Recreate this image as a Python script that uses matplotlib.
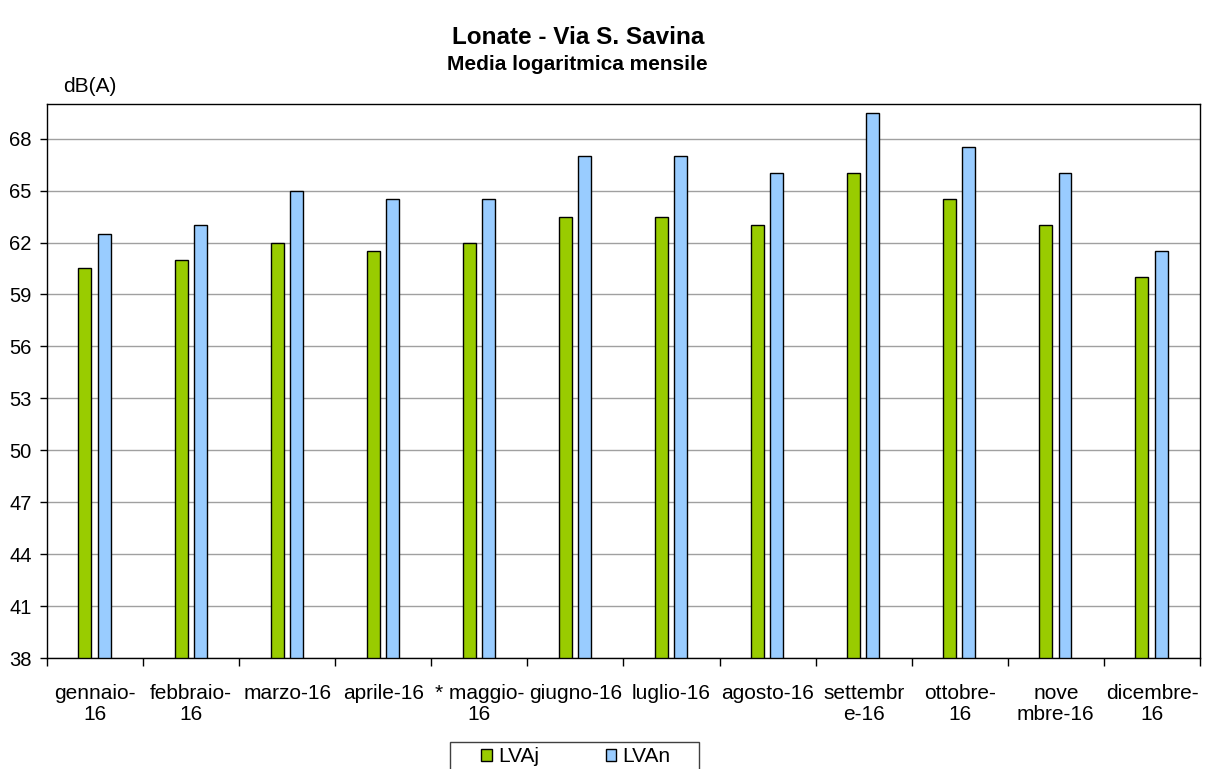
import matplotlib
matplotlib.use("Agg")
import matplotlib.pyplot as plt
from matplotlib.patches import Rectangle
import numpy as np

plt.rcParams['font.family'] = ['Liberation Sans', 'DejaVu Sans']

categories = ["gennaio-\n16", "febbraio-\n16", "marzo-16", "aprile-16", "* maggio-\n16",
              "giugno-16", "luglio-16", "agosto-16", "settembr\ne-16", "ottobre-\n16",
              "nove\nmbre-16", "dicembre-\n16"]
lvaj = [60.5, 61.0, 62.0, 61.5, 62.0, 63.5, 63.5, 63.0, 66.0, 64.5, 63.0, 60.0]
lvan = [62.5, 63.0, 65.0, 64.5, 64.5, 67.0, 67.0, 66.0, 69.5, 67.5, 66.0, 61.5]
yticks = [38, 41, 44, 47, 50, 53, 56, 59, 62, 65, 68]

W, H = 1208, 769
fig = plt.figure(figsize=(W/100, H/100), dpi=100)
ax = fig.add_axes([47/W, 1 - 658/H, (1200-47)/W, (658-104)/H])

x = np.arange(len(categories))
w = 0.135
ax.bar(x - 0.105, [v - 38 for v in lvaj], w, bottom=38, color="#99CC00", edgecolor="black", linewidth=1, label="LVAj", zorder=3)
ax.bar(x + 0.095, [v - 38 for v in lvan], w, bottom=38, color="#99CCFF", edgecolor="black", linewidth=1, label="LVAn", zorder=3)

ax.set_xlim(-0.5, len(categories) - 0.5)
ax.set_ylim(38, 70)
ax.set_yticks(yticks)
ax.set_yticklabels([str(t) for t in yticks], fontsize=14.5)
ax.yaxis.grid(True, color="#a0a0a0", linewidth=1, zorder=0)
ax.set_axisbelow(True)

ax.set_xticks(np.arange(len(categories) + 1) - 0.5)
ax.set_xticklabels([])
ax.set_xticks(x, minor=True)
ax.set_xticklabels(categories, minor=True, fontsize=15, linespacing=1.1)
ax.tick_params(axis='x', which='minor', length=0, pad=19)
ax.tick_params(axis='x', which='major', length=6, direction='out', width=1)
ax.tick_params(axis='y', length=5, direction='out', width=1, pad=6)

for s in ax.spines.values():
    s.set_color("black")
    s.set_linewidth(1)

fig.text(578/W, 1 - 37/H, "Lonate - Via S. Savina", ha='center', va='center', fontsize=17.5, fontweight='bold')
fig.text(577/W, 1 - 65/H, "Media logaritmica mensile", ha='center', va='center', fontsize=15, fontweight='bold')
fig.text(63/W, 1 - 87/H, "dB(A)", ha='left', va='center', fontsize=15)

leg = fig.legend(loc='center', bbox_to_anchor=(576/W, 1 - 757/H), ncol=2, fontsize=15,
                 frameon=False, handlelength=0.5, handleheight=0.5,
                 columnspacing=3.2, handletextpad=0.3, borderpad=0, borderaxespad=0)
fig.patches.append(Rectangle((450/W, 1 - 780/H), (699-450)/W, (780-742)/H,
                             transform=fig.transFigure, fill=False, edgecolor="#404040",
                             linewidth=1, clip_on=False))

fig.savefig("out.png", dpi=100)
